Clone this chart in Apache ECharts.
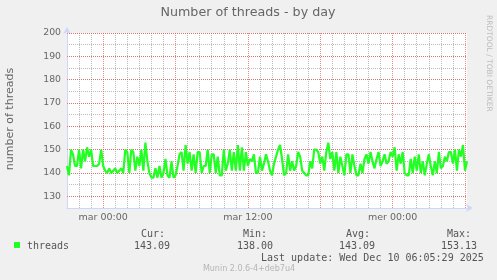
<!DOCTYPE html>
<html>
<head>
<meta charset="utf-8">
<script src="https://cdn.jsdelivr.net/npm/echarts@6/dist/echarts.min.js"></script>
<style>
html,body{margin:0;padding:0;background:#f0f0f0;}
#c{width:497px;height:280px;}
</style>
</head>
<body>
<div id="c"></div>
<script>
// ---- data ----
var dayNames = ['lun', 'mar', 'mer'];
var startMinute = 21 * 60;   // Monday 21:00
var stepMinutes = 10;
var threads = [
  143,139,150,148,143,143,150,142,150,145,151,147,150,143,143,143,144,150,143,
  141,140,142,140,141,142,140,141,142,140,
  150,149,140,150,149,141,147,143,150,141,153,145,140,138,138,142,138,143,138,140,
  146,139,138,145,138,139,143,148,149,141,152,144,149,141,148,140,149,149,140,143,
  143,150,140,148,148,140,147,139,139,150,141,144,150,141,149,141,152,141,151,141,
  149,143,
  146,145,148,140,140,147,141,144,148,145,141,139,144,147,150,152,146,139,140,148,
  141,145,141,143,149,147,141,140,139,139,145,142,150,150,149,144,147,141,149,153,
  146,149,141,149,140,147,143,139,148,148,140,148,143,139,139,144,140,146,148,144,
  149,145,142,146,149,143,145,148,144,145,149,147,151,141,148,144,149,140,139,139,
  146,140,147,141,148,140,145,139,144,148,143,139,145,140,149,142,143,147,145,149,
  149,144,150,141,150,147,152,141,145
];
var tickLabels = ['mar 00:00', 'mar 12:00', 'mer 00:00'];
var yMin = 125, yMax = 200, yStep = 5;
var yMajorTicks = [130, 140, 150, 160, 170, 180, 190, 200];
var seriesName = 'threads';
var statLabels = ['Cur:', 'Min:', 'Avg:', 'Max:'];
var statValues = ['143.09', '138.00', '143.09', '153.13'];
var lastUpdate = 'Last update: Wed Dec 10 06:05:29 2025';
var titleText = 'Number of threads - by day';
var yName = 'number of threads';
var sideText = 'RRDTOOL / TOBI OETIKER';
var footer = 'Munin 2.0.6-4+deb7u4';

// ---- build categories ----
function pad(n){ return (n < 10 ? '0' : '') + n; }
var categories = [];
var catMinutes = [];
for (var i = 0; i < threads.length; i++) {
  var t = startMinute + i * stepMinutes;
  var d = Math.floor(t / 1440), m = t % 1440;
  catMinutes.push(m);
  categories.push(dayNames[d] + ' ' + pad(Math.floor(m / 60)) + ':' + pad(m % 60));
}

var green = '#22ff22';
var sans = 'DejaVu Sans';
var redGrid = 'rgba(222,79,79,0.65)';
var grayGrid = 'rgba(143,143,143,0.6)';
var textColor = '#666666';

var statX = [141, 243, 346, 447];
var valX = [134, 237, 339, 441];
var mono10 = '10px "DejaVu Sans Mono"';
var graphics = [
  {type:'text', x:248, y:13, style:{text:titleText, font:'12.7px "DejaVu Sans"', fill:textColor, textAlign:'center', textVerticalAlign:'middle'}},
  {type:'text', x:10, y:119, rotation:Math.PI/2, style:{text:yName, font:'11px "DejaVu Sans"', fill:textColor, textAlign:'center', textVerticalAlign:'middle'}},
  {type:'text', x:489, y:15, rotation:-Math.PI/2, style:{text:sideText, font:'7.5px "DejaVu Sans"', fill:'#bbbbbb', textAlign:'left', textVerticalAlign:'middle'}},
  {type:'rect', shape:{x:14, y:242, width:6, height:6}, style:{fill:green}},
  {type:'text', x:27, y:246, style:{text:seriesName, font:mono10, fill:'#555', textVerticalAlign:'middle'}},
  {type:'text', x:261, y:258, style:{text:lastUpdate, font:mono10, fill:'#555', textVerticalAlign:'middle'}},
  {type:'text', x:249, y:269, style:{text:footer, font:'8px "DejaVu Sans"', fill:'#b5b5b5', textAlign:'center', textVerticalAlign:'middle'}}
];
for (var k = 0; k < statLabels.length; k++) {
  graphics.push({type:'text', x:statX[k], y:234, style:{text:statLabels[k], font:mono10, fill:'#555', textVerticalAlign:'middle'}});
  graphics.push({type:'text', x:valX[k], y:246, style:{text:statValues[k], font:mono10, fill:'#555', textVerticalAlign:'middle'}});
}

var majorMarks = yMajorTicks.map(function(v){ return {yAxis: v}; });

var axisLineStyle = {show:true, lineStyle:{color:'#cfd6f8', width:1}, symbol:['none','arrow'], symbolSize:[6,7], symbolOffset:[0,6]};
var chart = echarts.init(document.getElementById('c'), null, {renderer:'canvas'});
chart.setOption({
  backgroundColor:'#f0f0f0',
  animation:false,
  grid:{left:67, right:30, top:33, bottom:72, show:true, backgroundColor:'#ffffff', borderWidth:0},
  xAxis:[{
    type:'category', data:categories, boundaryGap:false,
    axisLine:axisLineStyle,
    axisTick:{show:false},
    axisLabel:{interval:function(idx, val){ return tickLabels.indexOf(val) >= 0; }, color:textColor, fontFamily:sans, fontSize:9.5, margin:5},
    splitLine:{show:true, interval:function(idx){ return catMinutes[idx] % 360 === 0; }, lineStyle:{color:redGrid, type:[1,1], width:1}},
    z:3
  },{
    type:'category', data:categories, boundaryGap:false, position:'top',
    axisLine:{show:false}, axisTick:{show:false}, axisLabel:{show:false},
    splitLine:{show:true, interval:function(idx){ return catMinutes[idx] % 60 === 0 && catMinutes[idx] % 360 !== 0; }, lineStyle:{color:grayGrid, type:[1,1], width:1}},
    z:1
  }],
  yAxis:[{
    type:'value', min:yMin, max:yMax, interval:yStep,
    axisLine:axisLineStyle,
    axisTick:{show:false},
    axisLabel:{formatter:function(val){ return val % 10 === 0 ? String(val) : ''; }, color:textColor, fontFamily:sans, fontSize:9.3, margin:6},
    splitLine:{show:true, lineStyle:{color:grayGrid, type:[1,1], width:1}},
    z:3
  }],
  graphic:graphics,
  series:[{
    type:'line', name:'majorgrid', data:[], silent:true, z:2,
    markLine:{silent:true, symbol:['none','none'], label:{show:false}, emphasis:{disabled:true}, animation:false,
      lineStyle:{color:redGrid, type:[1,1], width:1}, data:majorMarks}
  },{
    type:'line', name:seriesName, data:threads,
    showSymbol:false, symbol:'none',
    lineStyle:{color:green, width:2.2},
    z:5
  }]
});
</script>
</body>
</html>
